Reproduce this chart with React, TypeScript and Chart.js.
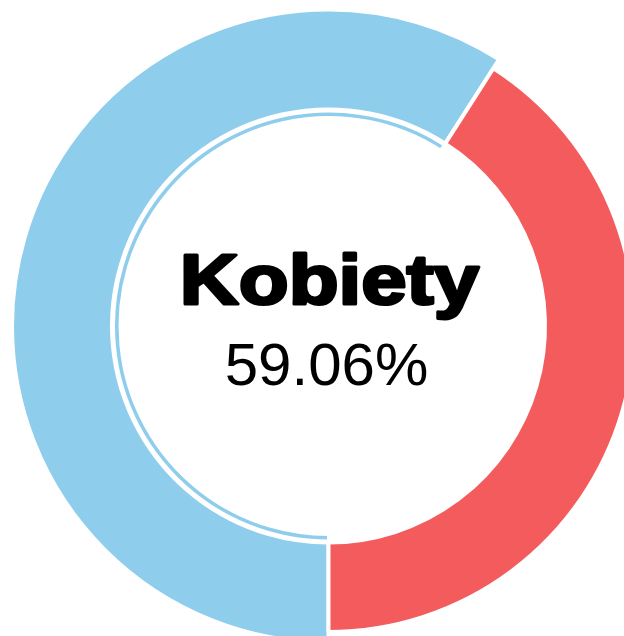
import React, { useEffect, useRef } from "react";
import { Chart, registerables } from "chart.js";

Chart.register(...registerables);

const categories = ["Kobiety", "Mężczyźni"];
const shares = [59.06, 40.94];
const sliceColors = ["#8fcdec", "#f35b5d"];
const highlightIndex = 0;

const CANVAS_W = 657;
const CANVAS_H = 652;

const expandPlugin = {
  id: "expandHighlight",
  beforeDatasetDraw(chart: any, args: any) {
    if (args.index !== 0) return;
    const meta = args.meta;
    const arc = meta.data[highlightIndex];
    if (arc) arc.outerRadius = meta.controller.outerRadius + 10.5;
  },
};

const centerTextPlugin = {
  id: "centerText",
  afterDraw(chart: any) {
    const arc = chart.getDatasetMeta(0).data[highlightIndex];
    if (!arc) return;
    const ctx = chart.ctx;
    const cx = arc.x;
    const cy = arc.y;
    ctx.save();
    ctx.fillStyle = "#000";
    ctx.strokeStyle = "#000";
    ctx.textAlign = "center";
    ctx.textBaseline = "alphabetic";
    ctx.save();
    ctx.translate(cx + 1, cy - 22);
    ctx.scale(1.15, 1);
    ctx.font = "bold 71px 'Liberation Sans', Arial, sans-serif";
    ctx.lineWidth = 3;
    ctx.lineJoin = "round";
    ctx.strokeText(categories[highlightIndex], 0, 0);
    ctx.fillText(categories[highlightIndex], 0, 0);
    ctx.restore();
    ctx.font = "60px 'Liberation Sans', Arial, sans-serif";
    ctx.fillText(shares[highlightIndex].toFixed(2) + "%", cx - 2, cy + 59);
    ctx.restore();
  },
};

export default function App() {
  const ref = useRef<HTMLCanvasElement>(null);
  useEffect(() => {
    if (!ref.current) return;
    const chart = new Chart(ref.current, {
      type: "doughnut",
      data: {
        labels: categories,
        datasets: [
          {
            data: shares,
            backgroundColor: sliceColors,
            borderColor: "#ffffff",
            borderWidth: 4,
            weight: 89.5,
          },
          {
            data: shares,
            backgroundColor: ["rgba(0,0,0,0)", "rgba(0,0,0,0)"],
            borderWidth: 0,
            weight: 1.5,
          },
          {
            data: shares,
            backgroundColor: [sliceColors[0], "rgba(0,0,0,0)"],
            borderColor: "#ffffff",
            borderWidth: 3,
            weight: 6.5,
          },
        ],
      },
      options: {
        responsive: false,
        animation: false,
        events: [],
        rotation: 180,
        radius: 306,
        cutout: (208.5 / 306) * 100 + "%",
        layout: { padding: 0 },
        plugins: {
          legend: { display: false },
          tooltip: { enabled: false },
        },
      } as any,
      plugins: [expandPlugin, centerTextPlugin],
    });
    return () => chart.destroy();
  }, []);
  return (
    <div
      style={{
        position: "fixed",
        left: 0,
        top: 0,
        width: 624,
        height: 636,
        overflow: "hidden",
        background: "#fff",
      }}
    >
      <canvas ref={ref} width={CANVAS_W} height={CANVAS_H} style={{ display: "block" }} />
    </div>
  );
}
